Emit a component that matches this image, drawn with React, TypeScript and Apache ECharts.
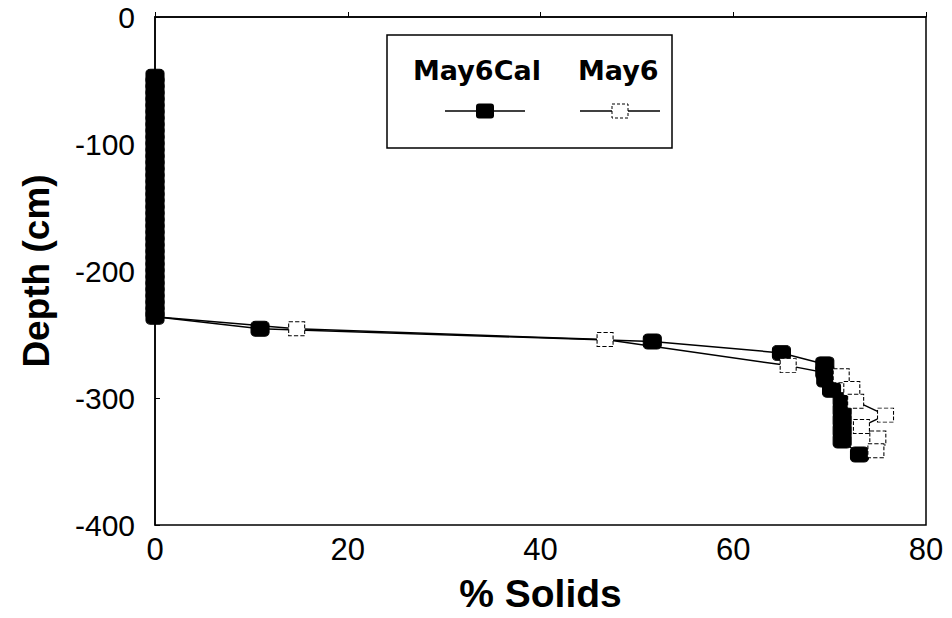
import React, { useEffect, useRef } from "react";
import * as echarts from "echarts";

const xTicks = [0, 20, 40, 60, 80];
const yTicks = [-400, -300, -200, -100, 0];

const may6CalSolids = [
  0, 0, 0, 0, 0, 0, 0, 0, 0, 0, 0, 0, 0, 0, 0, 0, 0, 0, 0, 0,
  0, 0, 0, 0, 0, 0, 0, 0, 0, 0, 0, 0, 0, 0, 0, 0, 0, 0, 0,
  10.9, 51.6, 65.0, 69.5, 69.5, 69.6, 70.2, 71.3, 71.3, 71.3, 71.3, 71.3, 73.1,
];
const may6CalDepth = [
  -47, -52, -57, -62, -67, -72, -77, -82, -87, -92, -97, -102, -107, -112, -117, -122, -127, -132, -137, -142,
  -147, -152, -157, -162, -167, -172, -177, -182, -187, -192, -197, -202, -207, -212, -217, -222, -227, -232, -236,
  -245.5, -255.5, -264.5, -273.5, -279.5, -285.5, -293.5, -301.5, -309.5, -317.5, -325.5, -333.5, -344.5,
];

const may6Solids = [0, 14.7, 46.7, 65.7, 71.2, 72.3, 72.7, 75.8, 73.3, 75.0, 74.8];
const may6Depth = [-236, -245.5, -254, -274.5, -282.5, -292.5, -302.5, -313.5, -322.5, -331.5, -341.5];

const legendNames = ["May6Cal", "May6"];

export default function App() {
  const ref = useRef<HTMLDivElement>(null);
  useEffect(() => {
    if (!ref.current) return;
    const chart = echarts.init(ref.current, null, { renderer: "svg" });
    const calData = may6CalSolids.map((x, i) => [x, may6CalDepth[i]]);
    const openData = may6Solids.map((x, i) =>
      i === 0 ? { value: [x, may6Depth[i]], symbol: "none" } : [x, may6Depth[i]]
    );
    const font = "'Liberation Sans', Arial, sans-serif";
    const legendFont = "'DejaVu Sans', sans-serif";
    chart.setOption({
      animation: false,
      backgroundColor: "#fff",
      grid: {
        left: 155,
        right: 26,
        top: 17,
        bottom: 91,
        show: true,
        borderColor: "#000",
        borderWidth: 1.5,
      },
      xAxis: {
        type: "value",
        min: xTicks[0],
        max: xTicks[xTicks.length - 1],
        interval: 20,
        splitLine: { show: false },
        axisLine: { lineStyle: { color: "#000", width: 1.5 } },
        axisTick: { inside: true, length: 5, lineStyle: { color: "#000" } },
        axisLabel: { color: "#000", fontSize: 31, fontFamily: font, margin: 9 },
        name: "% Solids",
        nameLocation: "middle",
        nameGap: 49,
        nameTextStyle: { color: "#000", fontSize: 39, fontWeight: "bold", fontFamily: font },
      },
      yAxis: {
        type: "value",
        min: yTicks[0],
        max: yTicks[yTicks.length - 1],
        interval: 100,
        splitLine: { show: false },
        axisLine: { lineStyle: { color: "#000", width: 1.5 } },
        axisTick: { inside: true, length: 5, lineStyle: { color: "#000" } },
        axisLabel: { color: "#000", fontSize: 30, lineHeight: 26, fontFamily: font, margin: 20 },
        name: "Depth (cm)",
        nameLocation: "middle",
        nameGap: 100,
        nameRotate: 90,
        nameTextStyle: { color: "#000", fontSize: 37, fontWeight: "bold", fontFamily: font },
      },
      graphic: [
        {
          type: "group",
          children: [
            { type: "rect", shape: { x: 387, y: 35, width: 285, height: 113 }, style: { fill: "#fff", stroke: "#000", lineWidth: 1.5 }, z: 10 },
            { type: "text", x: 413, y: 70, style: { text: legendNames[0], fill: "#000", font: "bold 27px " + legendFont, verticalAlign: "middle" }, z: 11 },
            { type: "text", x: 578, y: 70, style: { text: legendNames[1], fill: "#000", font: "bold 27px " + legendFont, verticalAlign: "middle" }, z: 11 },
            { type: "line", shape: { x1: 445, y1: 111, x2: 525, y2: 111 }, style: { stroke: "#000", lineWidth: 1.5 }, z: 11 },
            { type: "rect", shape: { x: 476, y: 103.5, width: 18, height: 15, r: 3 }, style: { fill: "#000" }, z: 12 },
            { type: "line", shape: { x1: 580, y1: 111, x2: 660, y2: 111 }, style: { stroke: "#000", lineWidth: 1.5 }, z: 11 },
            { type: "rect", shape: { x: 612, y: 104, width: 16, height: 14 }, style: { fill: "#fff", stroke: "#000", lineWidth: 1, lineDash: [3, 2] }, z: 12 },
          ],
        },
      ],
      series: [
        {
          name: "May6Cal",
          type: "line",
          data: calData,
          symbol: "roundRect",
          symbolSize: [18, 15],
          showAllSymbol: true,
          lineStyle: { color: "#000", width: 1.5 },
          itemStyle: { color: "#000", borderColor: "#000" },
          z: 2,
        },
        {
          name: "May6",
          type: "line",
          data: openData,
          symbol: "rect",
          symbolSize: [16, 14],
          showAllSymbol: true,
          lineStyle: { color: "#000", width: 1.5 },
          itemStyle: { color: "#fff", borderColor: "#000", borderWidth: 1, borderType: "dashed" },
          z: 3,
        },
      ],
    });
    return () => chart.dispose();
  }, []);
  return (
    <div
      ref={ref}
      style={{ position: "fixed", left: 0, top: 0, width: 952, height: 618, background: "#fff" }}
    />
  );
}
